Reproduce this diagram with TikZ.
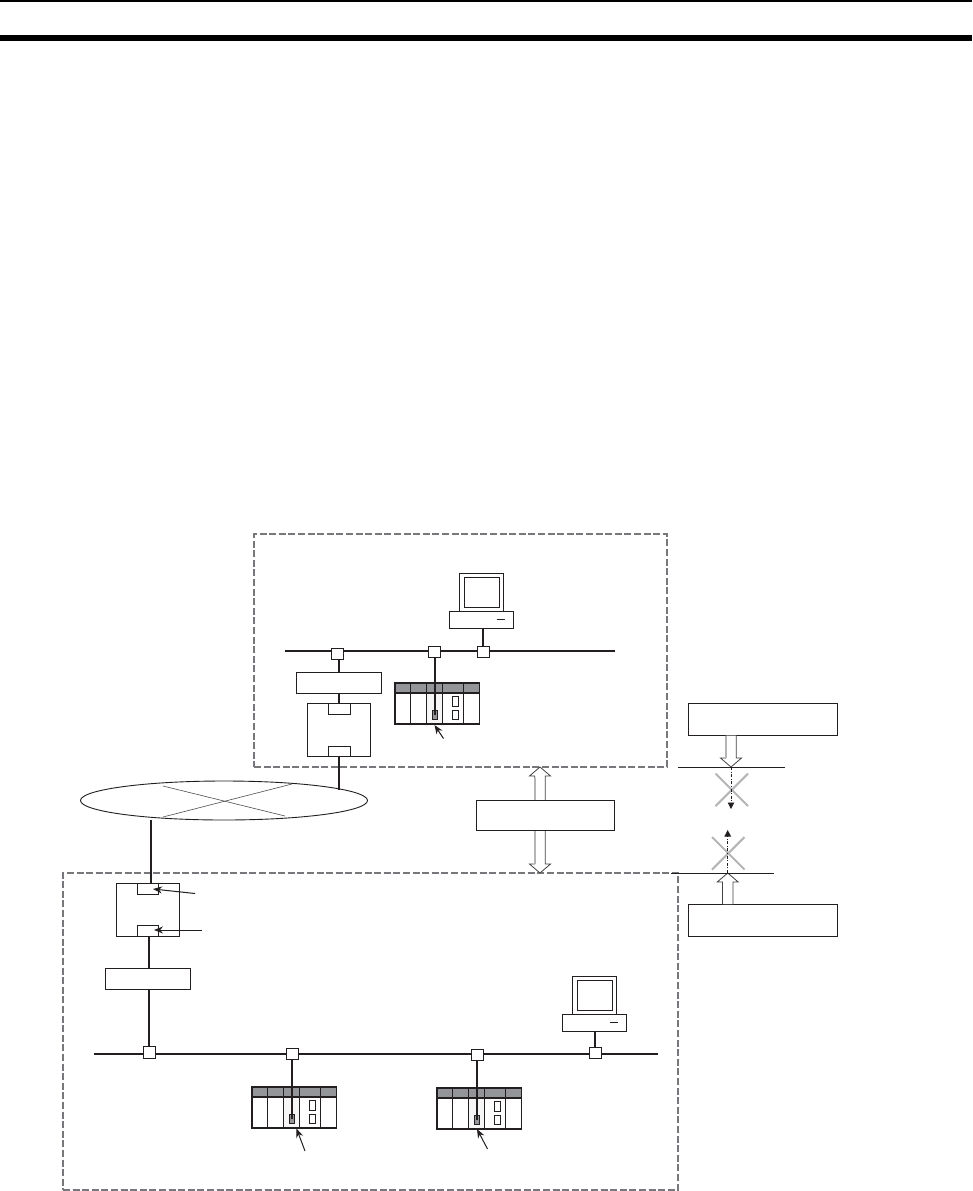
\documentclass[tikz,border=0pt]{standalone}
\usetikzlibrary{shapes.geometric,arrows.meta,calc}
\definecolor{ink}{HTML}{231F20}
\definecolor{dashgray}{HTML}{77787B}
\definecolor{headgray}{HTML}{939598}
\definecolor{xgray}{HTML}{B4B5B7}
\tikzset{
  thinbox/.style={draw=ink,fill=white,line width=0.95pt,inner sep=0pt,outer sep=0pt},
  thickbox/.style={draw=ink,line width=1.7pt,inner sep=0pt,outer sep=0pt},
  region/.style={draw=dashgray,line width=1.2pt,dash pattern=on 7pt off 2.6pt,inner sep=0pt,outer sep=0pt},
  cable/.style={draw=ink,line width=2.1pt},
  wire/.style={draw=ink,line width=1pt},
  pointer/.style={draw=ink,line width=1pt,-{Stealth[length=9pt,width=7pt]}},
  hollowline/.style={draw=ink!85,line width=0.8pt,fill=white,line join=miter},
  grayedge/.style={draw=xgray,line width=1.8pt},
  cross/.style={draw=xgray,line width=2.1pt},
  blocked/.style={draw=ink,line width=0.9pt,dash pattern=on 3pt off 1.6pt on 1pt off 1.6pt},
  tiphead/.style={-{Triangle[length=6.5pt,width=6.5pt]}},
  spokes/.style={draw=ink!80,line width=0.6pt},
  rule/.style={fill=black,draw=none,inner sep=0pt,outer sep=0pt}
}
% rectangle node by corners: name, x1, y1, x2, y2, style
\newcommand\rectnode[6]{%
  \pgfmathsetmacro\rcx{(#2+#4)/2}\pgfmathsetmacro\rcy{(#3+#5)/2}%
  \pgfmathsetmacro\rw{#4-#2}\pgfmathsetmacro\rh{#5-#3}%
  \node[#6,minimum width=\rw pt,minimum height=\rh pt] (#1) at (\rcx,\rcy) {};}
% hollow arrow from a to b
\newcommand\hollowarrow[2]{%
  \coordinate (hneck) at ($(#2)!9pt!(#1)$);
  \draw[hollowline] ($(#1)!5.3pt!90:(#2)$) -- ($(hneck)!5.3pt!90:(#2)$) -- ($(hneck)!10.5pt!90:(#2)$)
     -- (#2) -- ($(hneck)!10.5pt!-90:(#2)$) -- ($(hneck)!5.3pt!-90:(#2)$) -- ($(#1)!5.3pt!-90:(#2)$);}
% PLC rack
\newcommand\plcrack[3]{%
 \begin{scope}[shift={(#2,#3)}]
  \rectnode{#1cell}{426.7}{692.5}{442.7}{724}{draw=none,fill=gray!7,inner sep=0pt,outer sep=0pt}
  \rectnode{#1head}{394.8}{683}{479.5}{692.5}{draw=none,fill=headgray,inner sep=0pt,outer sep=0pt}
  \rectnode{#1rack}{394.8}{683}{479.5}{724}{thickbox}
  \draw[draw=ink,line width=1.4pt] (394.8,692.8) -- (479.5,692.8);
  \draw[wire] (410.7,683) -- (410.7,724);
  \draw[wire] (426.7,683) -- (426.7,724);
  \draw[wire] (442.7,683) -- (442.7,724);
  \draw[wire] (463,683) -- (463,724);
  \rectnode{#1sa}{452.5}{696.5}{458.5}{706}{thinbox}
  \rectnode{#1sb}{452.5}{710}{458.5}{719.5}{thinbox}
  \rectnode{#1port}{432}{710}{437.5}{719.5}{thinbox,fill=headgray}
 \end{scope}}
% PC
\newcommand\pcunit[3]{%
 \begin{scope}[shift={(#2,#3)}]
  \rectnode{#1mon}{459}{573}{503.5}{611}{thinbox}
  \rectnode{#1scr}{464}{577.5}{499}{607.5}{thinbox}
  \rectnode{#1base}{449}{611}{513}{628.5}{thinbox}
  \draw[wire] (496.5,619) -- (505,619);
 \end{scope}}
\begin{document}
\begin{tikzpicture}[x=1pt,y=-1pt]
\useasboundingbox (0,0) rectangle (972,1191);
% page rules
\rectnode{ruleA}{0}{0}{972}{2}{rule}
\rectnode{ruleB}{0}{35}{972}{41}{rule}
% regions
\rectnode{upper}{254}{534}{667}{767}{region}
\rectnode{lower}{63}{873}{678}{1190}{region}
% network ellipse
\node[draw=ink,line width=0.9pt,ellipse,minimum width=287pt,minimum height=39pt,inner sep=0pt,outer sep=0pt] (wan) at (224,800.5) {};
\coordinate (sa) at (163,786); \coordinate (sb) at (285,816);
\coordinate (sc) at (163,817); \coordinate (sd) at (292,784);
\draw[spokes] (sa) -- (sb);
\draw[spokes] (sc) -- (sd);
% upper network
\coordinate (ubL) at (285,651); \coordinate (ubR) at (615,651);
\draw[cable] (ubL) -- (ubR);
\rectnode{rua}{296}{672}{381}{693}{thinbox}
\rectnode{rub}{307}{703}{370.5}{756}{thinbox}
\rectnode{ruc}{328.5}{703}{350}{714.5}{thinbox}
\rectnode{rud}{328.5}{746}{350}{756}{thinbox}
\plcrack{up}{0}{0}
\pcunit{upc}{0}{0}
\rectnode{uja}{331.5}{648}{343}{659}{thinbox}
\rectnode{ujb}{428.5}{646}{440}{657.5}{thinbox}
\rectnode{ujc}{477.5}{646}{489}{657.5}{thinbox}
\coordinate (wanin) at (339,790);
\draw[cable] (wanin |- uja.south) -- (wanin |- rua.north);
\draw[cable] (wanin |- rua.south) -- (wanin |- ruc.north);
\draw[cable] (wanin |- rud.south) -- (wanin);
\draw[cable] (ujb.south -| upport.north) -- (upport.center);
\draw[cable] (ujc.north |- upcbase.south) -- (ujc.north);
\coordinate (upt) at (443.5,738.5); \coordinate (upa) at (434.5,725);
\draw[pointer] (upt) -- (upa);
% lower network
\coordinate (lbL) at (94,1054); \coordinate (lbR) at (658,1054);
\draw[cable] (lbL) -- (lbR);
\rectnode{rla}{116}{883}{179.5}{936}{thinbox}
\rectnode{rlb}{137.5}{883}{158.5}{894.5}{thinbox}
\rectnode{rlc}{137.5}{925}{158.5}{936}{thinbox}
\rectnode{rld}{105}{968}{190.5}{989}{thinbox}
\plcrack{la}{-143}{404}
\plcrack{lb}{42}{405}
\pcunit{lpc}{113}{403}
\rectnode{lja}{143}{1046.5}{155}{1058}{thinbox}
\rectnode{ljb}{286.5}{1048}{298}{1059.5}{thinbox}
\rectnode{ljc}{471.5}{1049.5}{483}{1060.5}{thinbox}
\rectnode{ljd}{589}{1047}{601}{1058}{thinbox}
\coordinate (wanout) at (150.7,819.5);
\draw[cable] (wanout) -- (wanout |- rlb.north);
\draw[cable] (lja.north |- rlc.south) -- (lja.north |- rld.north);
\draw[cable] (lja.north |- rld.south) -- (lja.north);
\draw[cable] (ljb.south -| laport.north) -- (laport.center);
\draw[cable] (ljc.south -| lbport.north) -- (lbport.center);
\draw[cable] (ljd.north |- lpcbase.south) -- (ljd.north);
\coordinate (pa) at (195,893.5); \coordinate (pat) at (153,889);
\coordinate (pb) at (201.5,930); \coordinate (pbt) at (154,930);
\draw[pointer] (pa) -- (pat);
\draw[pointer] (pb) -- (pbt);
\coordinate (pc) at (305,1151); \coordinate (pct) at (296.5,1128.5);
\coordinate (pd) at (487.5,1149); \coordinate (pdt) at (477,1129);
\draw[pointer] (pc) -- (pct);
\draw[pointer] (pd) -- (pdt);
% middle double arrow and box
\coordinate (mtop) at (540,767); \coordinate (mbot) at (540,873); \coordinate (mmid) at (540,815);
\hollowarrow{mmid}{mtop}
\hollowarrow{mmid}{mbot}
\draw[grayedge] (534.7,778) -- (534.7,864);
\rectnode{mbox}{476.5}{800}{614}{830}{thinbox}
% right: upper rule
\rectnode{tbox}{688}{703}{837.5}{735.5}{thinbox}
\coordinate (tfrom) at (731,735.5); \coordinate (ttip) at (731,767);
\hollowarrow{tfrom}{ttip}
\draw[grayedge] (725.7,736) -- (725.7,758);
\coordinate (tlL) at (678,767); \coordinate (tlR) at (785,767);
\draw[wire] (tlL) -- (tlR);
\coordinate (tdash) at (731,809);
\coordinate (ta) at (715.5,773.5); \coordinate (tb) at (748,806);
\coordinate (tc) at (715.5,806); \coordinate (td) at (748,773.5);
\draw[cross] (ta) -- (tb);
\draw[cross] (tc) -- (td);
\draw[blocked,tiphead] (ttip) -- (tdash);
% right: lower rule
\rectnode{bbox}{688}{904}{837.5}{936.5}{thinbox}
\coordinate (bfrom) at (727.7,904); \coordinate (btip) at (727.7,873);
\hollowarrow{bfrom}{btip}
\coordinate (blL) at (671,873); \coordinate (blR) at (774,873);
\draw[wire] (blL) -- (blR);
\coordinate (bdash) at (727.7,830);
\coordinate (ba) at (712,837); \coordinate (bb) at (744.5,869.5);
\coordinate (bc) at (712,869.5); \coordinate (bd) at (744.5,837);
\draw[cross] (ba) -- (bb);
\draw[cross] (bc) -- (bd);
\draw[blocked,tiphead] (btip) -- (bdash);
\end{tikzpicture}
\end{document}
